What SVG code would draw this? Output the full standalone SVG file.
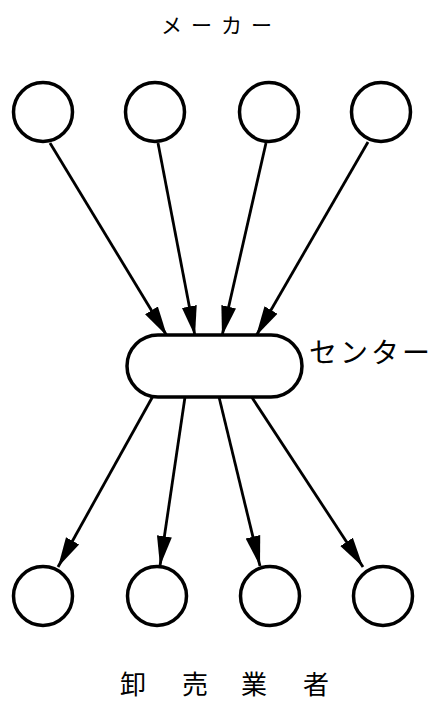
<svg xmlns="http://www.w3.org/2000/svg" width="433" height="702" viewBox="0 0 433 702">
<style>
.node{fill:#fff;stroke:#000;stroke-width:3.5}
.edge{stroke:#000;stroke-width:2.8;fill:none;marker-end:url(#ah)}
.lbl{font-family:"Noto Sans CJK JP","Noto Sans CJK SC",sans-serif;fill:#000}
</style>
<defs>
<marker id="ah" markerUnits="userSpaceOnUse" markerWidth="32" markerHeight="18" viewBox="0 -9 32 18" refX="30" refY="0" orient="auto">
<path d="M0,-7.5 L30,0 L0,7.5 Z" fill="#000"/>
</marker>
</defs>
<rect width="433" height="702" fill="#fff"/>
<g id="connectors">
<line class="edge" x1="50" y1="143" x2="167" y2="336"/>
<line class="edge" x1="158" y1="143" x2="195" y2="336"/>
<line class="edge" x1="266" y1="143" x2="222" y2="336"/>
<line class="edge" x1="368" y1="142" x2="256" y2="336"/>
<line class="edge" x1="153" y1="396" x2="58" y2="567"/>
<line class="edge" x1="185" y1="397" x2="160" y2="566"/>
<line class="edge" x1="219" y1="397" x2="260" y2="566"/>
<line class="edge" x1="251" y1="396" x2="363" y2="567"/>
</g>
<g id="maker1"><circle class="node" cx="43" cy="112" r="29.5"/></g>
<g id="maker2"><circle class="node" cx="155" cy="112" r="29.5"/></g>
<g id="maker3"><circle class="node" cx="269" cy="112" r="29.5"/></g>
<g id="maker4"><circle class="node" cx="381" cy="112" r="29.5"/></g>
<g id="center"><rect class="node" x="127" y="335" width="175" height="62" rx="31" ry="31"/></g>
<g id="whole1"><circle class="node" cx="43" cy="596" r="29.5"/></g>
<g id="whole2"><circle class="node" cx="157" cy="596" r="29.5"/></g>
<g id="whole3"><circle class="node" cx="270" cy="596" r="29.5"/></g>
<g id="whole4"><circle class="node" cx="383" cy="596" r="29.5"/></g>
<g id="labels">
<text class="lbl" x="221" y="33" font-size="21" text-anchor="middle" letter-spacing="9">メーカー</text>
<text class="lbl" x="309" y="363" font-size="28" letter-spacing="3">センター</text>
<text class="lbl" font-size="26"><tspan x="120" y="694">卸</tspan><tspan x="182" y="694">売</tspan><tspan x="241" y="694">業</tspan><tspan x="303" y="694">者</tspan></text>
</g>
</svg>
